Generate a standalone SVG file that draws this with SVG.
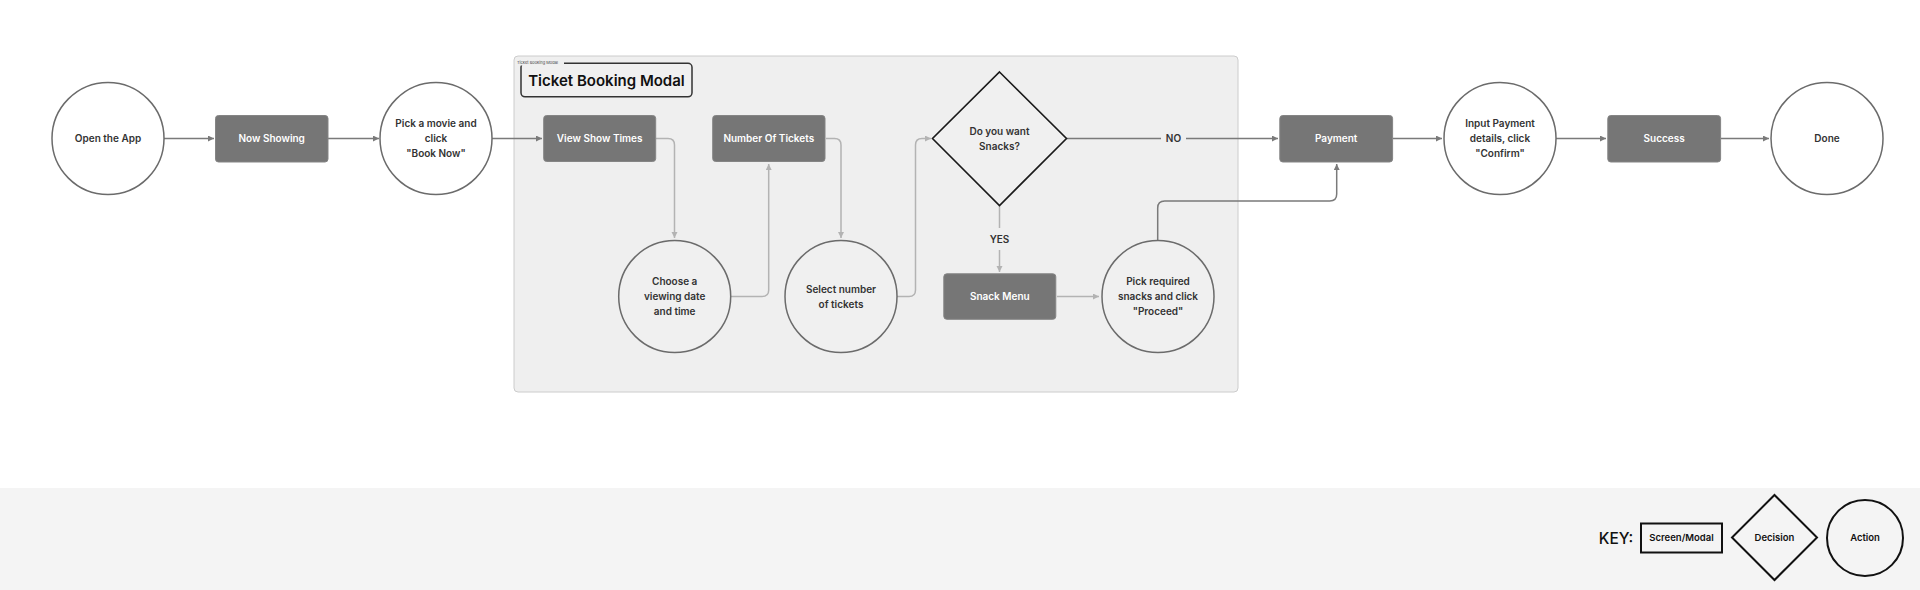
<svg xmlns="http://www.w3.org/2000/svg" width="1920" height="590" viewBox="0 0 1920 590">
<style>
text{font-family:Inter,"Noto Sans","Liberation Sans",sans-serif;font-weight:600;text-anchor:middle}
.scr{fill:#767676;stroke:#858585;stroke-width:1}
.scr-t{fill:#ffffff;font-size:10px}
.act{fill:#ffffff;stroke:#6b6b6b;stroke-width:1.5}
.act-in{fill:#f0f0f0;stroke:#6b6b6b;stroke-width:1.5}
.act-t{fill:#333333;font-size:10px}
.dec{fill:#f0f0f0;stroke:#1a1a1a;stroke-width:1.6}
.dk{fill:none;stroke:#7a7a7a;stroke-width:1.5}
.lt{fill:none;stroke:#b3b3b3;stroke-width:1.5}
.lbl{fill:#333333;font-size:10px}
.key{fill:none;stroke:#111111;stroke-width:2}
.key-t{fill:#111111;font-size:9.5px}
</style>
<defs>
<marker id="ad" markerUnits="userSpaceOnUse" markerWidth="7" markerHeight="7" refX="6" refY="3" orient="auto"><path d="M0,0 L6,3 L0,6 z" fill="#7a7a7a"/></marker>
<marker id="al" markerUnits="userSpaceOnUse" markerWidth="7" markerHeight="7" refX="6" refY="3" orient="auto"><path d="M0,0 L6,3 L0,6 z" fill="#b3b3b3"/></marker>
</defs>
<rect x="0" y="0" width="1920" height="590" fill="#ffffff"/>
<rect x="0" y="488" width="1920" height="102" fill="#f4f4f4"/>

<g id="modal">
<rect x="514" y="56" width="724" height="336" rx="4" fill="#efefef" stroke="#cccccc" stroke-width="1"/>
<rect x="521" y="63.3" width="171" height="33.5" rx="4" fill="#f0f0f0" stroke="#333333" stroke-width="1.5"/>
<rect x="516" y="60.5" width="48" height="5" fill="#efefef"/>
<text x="517" y="64.3" style="font-size:4px;font-weight:400;text-anchor:start;fill:#444">Ticket Booking Modal</text>
<text x="606.5" y="85.5" style="font-size:15px;font-weight:600;fill:#111">Ticket Booking Modal</text>
</g>

<g id="connectors">
<path class="dk" d="M164,138.5 H214" marker-end="url(#ad)"/>
<path class="dk" d="M328,138.5 H379" marker-end="url(#ad)"/>
<path class="dk" d="M492,138.5 H542" marker-end="url(#ad)"/>
<path class="lt" d="M656,138.5 H668 Q674.5,138.5 674.5,145 V238" marker-end="url(#al)"/>
<path class="lt" d="M731,296.5 H762 Q768.7,296.5 768.7,290 V164" marker-end="url(#al)"/>
<path class="lt" d="M826,138.5 H834.5 Q841,138.5 841,145 V238" marker-end="url(#al)"/>
<path class="lt" d="M897,296.5 H909 Q915.5,296.5 915.5,290 V145 Q915.5,138.5 922,138.5 H931" marker-end="url(#al)"/>
<path class="dk" d="M1066.5,138.5 H1161"/>
<path class="dk" d="M1186,138.5 H1278" marker-end="url(#ad)"/>
<text class="lbl" x="1173.5" y="142.1">NO</text>
<path class="lt" d="M999.5,205.5 V228"/>
<path class="lt" d="M999.5,250 V272" marker-end="url(#al)"/>
<text class="lbl" x="999.5" y="242.9">YES</text>
<path class="lt" d="M1057,296.5 H1099" marker-end="url(#al)"/>
<path class="dk" d="M1157.7,240.5 V208 Q1157.7,201 1164.7,201 H1329.7 Q1336.7,201 1336.7,194 V164" marker-end="url(#ad)"/>
<path class="dk" d="M1393,138.5 H1442" marker-end="url(#ad)"/>
<path class="dk" d="M1556,138.5 H1606" marker-end="url(#ad)"/>
<path class="dk" d="M1721,138.5 H1769" marker-end="url(#ad)"/>
</g>

<g id="open-app">
<circle class="act" cx="108" cy="138.5" r="56"/>
<text class="act-t" x="108" y="142.1">Open the App</text>
</g>
<g id="now-showing">
<rect class="scr" x="215.5" y="115.5" width="112.5" height="46.5" rx="3"/>
<text class="scr-t" x="271.7" y="142.1">Now Showing</text>
</g>
<g id="pick-movie">
<circle class="act" cx="436" cy="138.5" r="56"/>
<text class="act-t" x="436" y="127.4">Pick a movie and</text>
<text class="act-t" x="436" y="142.1">click</text>
<text class="act-t" x="436" y="156.8">"Book Now"</text>
</g>
<g id="view-show-times">
<rect class="scr" x="543.7" y="115.5" width="112" height="46" rx="3"/>
<text class="scr-t" x="599.7" y="142.1">View Show Times</text>
</g>
<g id="choose-date">
<circle class="act-in" cx="674.7" cy="296.5" r="56"/>
<text class="act-t" x="674.7" y="285.4">Choose a</text>
<text class="act-t" x="674.7" y="300.1">viewing date</text>
<text class="act-t" x="674.7" y="314.8">and time</text>
</g>
<g id="number-of-tickets">
<rect class="scr" x="712.7" y="115.5" width="112.3" height="46" rx="3"/>
<text class="scr-t" x="768.8" y="142.1">Number Of Tickets</text>
</g>
<g id="select-number">
<circle class="act-in" cx="841" cy="296.5" r="56"/>
<text class="act-t" x="841" y="292.8">Select number</text>
<text class="act-t" x="841" y="307.5">of tickets</text>
</g>
<g id="want-snacks">
<polygon class="dec" points="999.5,72 1066.5,138.5 999.5,205.5 932.5,138.5"/>
<text class="act-t" x="999.5" y="135.3">Do you want</text>
<text class="act-t" x="999.5" y="150">Snacks?</text>
</g>
<g id="snack-menu">
<rect class="scr" x="943.8" y="273.8" width="112" height="45.5" rx="3"/>
<text class="scr-t" x="999.8" y="300.1">Snack Menu</text>
</g>
<g id="pick-snacks">
<circle class="act-in" cx="1158" cy="296.5" r="56"/>
<text class="act-t" x="1158" y="285.4">Pick required</text>
<text class="act-t" x="1158" y="300.1">snacks and click</text>
<text class="act-t" x="1158" y="314.8">"Proceed"</text>
</g>
<g id="payment">
<rect class="scr" x="1279.8" y="115.5" width="112.8" height="46.5" rx="3"/>
<text class="scr-t" x="1336.2" y="142.1">Payment</text>
</g>
<g id="input-payment">
<circle class="act" cx="1500" cy="138.5" r="56"/>
<text class="act-t" x="1500" y="127.4">Input Payment</text>
<text class="act-t" x="1500" y="142.1">details, click</text>
<text class="act-t" x="1500" y="156.8">"Confirm"</text>
</g>
<g id="success">
<rect class="scr" x="1607.8" y="115.5" width="112.8" height="46.5" rx="3"/>
<text class="scr-t" x="1664.2" y="142.1">Success</text>
</g>
<g id="done">
<circle class="act" cx="1827" cy="138.5" r="56"/>
<text class="act-t" x="1827" y="142.1">Done</text>
</g>

<g id="key">
<text x="1616" y="544" style="font-size:15.5px;font-weight:500;fill:#111">KEY:</text>
<rect class="key" x="1641" y="523.5" width="81" height="29"/>
<text class="key-t" x="1681.5" y="541.4">Screen/Modal</text>
<polygon class="key" points="1774.5,495 1817,537.5 1774.5,580 1732,537.5"/>
<text class="key-t" x="1774.5" y="541.4">Decision</text>
<circle class="key" cx="1865" cy="538" r="38"/>
<text class="key-t" x="1865" y="541.4">Action</text>
</g>
</svg>
